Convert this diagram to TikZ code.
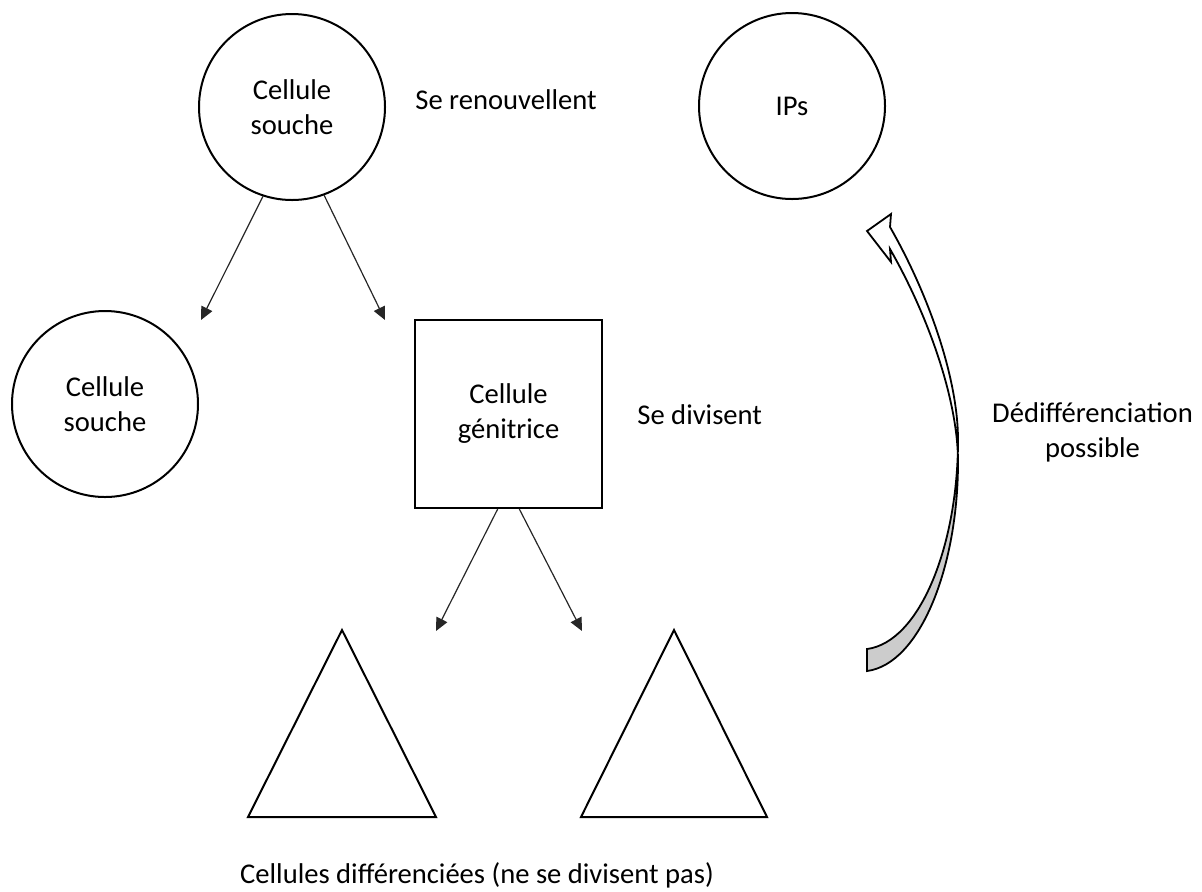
\documentclass[tikz,border=0pt]{standalone}
\usepackage{fontspec}
\setmainfont{Carlito}
\usetikzlibrary{arrows.meta,positioning}

\begin{document}
\begin{tikzpicture}[
    x=0.5pt, y=-0.5pt,
    font=\fontsize{14.3}{17.5}\selectfont,
    cellcircle/.style={circle, draw=black, line width=1pt, minimum size=93pt, inner sep=0pt, align=center},
    cellbox/.style={rectangle, draw=black, line width=1pt, minimum width=93.5pt, minimum height=94pt, inner sep=0pt, align=center},
    celltri/.style={draw=black, line width=1pt, line join=miter},
    plaintext/.style={inner sep=0pt, align=center},
    arrow/.style={draw=black!85, line width=0.6pt, -{Triangle[length=6.5pt,width=6pt]}},
    bigarrow/.style={draw=black, line width=0.9pt, line join=miter}
]

\useasboundingbox (0,0) rectangle (1202,891);

% Stem cells and IPs
\node[cellcircle] (stem) at (292,107) {Cellule\\souche};
\node[cellcircle] (ips) at (792,106) {IPs};
\node[cellcircle] (stemcopy) at (105,404) {Cellule\\souche};

% Progenitor cell
\node[cellbox] (progenitor) at (508.5,414) {Cellule\\génitrice};

% Differentiated cells
\draw[celltri] (248,817) -- (342,630) -- (436,817) -- cycle;
\draw[celltri] (581,817) -- (674,630) -- (767,817) -- cycle;

% Labels
\node[plaintext, anchor=west] (renew) at (415,100) {Se renouvellent};
\node[plaintext, anchor=west] (divide) at (637,415) {Se divisent};
\node[plaintext] (dediff) at (1092.5,432.5) {Dédifférenciation\\possible};
\node[plaintext, anchor=base] (diffcells) at (477,883) {Cellules différenciées (ne se divisent pas)};

% Arrow ends
\coordinate (e1) at (201,320);
\coordinate (e2) at (385,320);
\coordinate (e3) at (436,631);
\coordinate (e4) at (582,631);

% Arrows
\draw[arrow] (stem.252) -- (e1);
\draw[arrow] (stem.290) -- (e2);
\draw[arrow] ([xshift=-5.4pt]progenitor.south) -- (e3);
\draw[arrow] ([xshift=5.4pt]progenitor.south) -- (e4);

% Dedifferentiation arrow
\begin{scope}
  \clip (850,451) rectangle (1000,700);
  \fill[black!20] (890,227) .. controls (930,297) and (958,380) .. (958,440)
    .. controls (958,545) and (920,642) .. (867,649) -- (867,671)
    .. controls (920,664) and (958,567) .. (958,462)
    .. controls (958,402) and (930,319) .. (890,249) -- cycle;
\end{scope}
\draw[bigarrow] (890,227) .. controls (930,297) and (958,380) .. (958,440)
    .. controls (958,545) and (920,642) .. (867,649) -- (867,671)
    .. controls (920,664) and (958,567) .. (958,462)
    .. controls (958,402) and (930,319) .. (890,249)
    -- (891,262) -- (867,231) -- (891,214) -- cycle;

\end{tikzpicture}
\end{document}
